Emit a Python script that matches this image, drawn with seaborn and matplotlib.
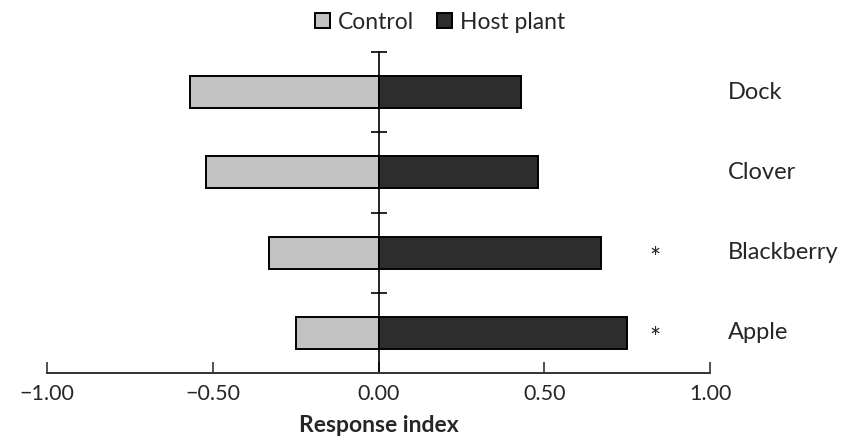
import pandas as pd
import numpy as np
import seaborn as sns
import matplotlib.pyplot as plt

# Dados
plantas = ['Dock', 'Clover', 'Blackberry', 'Apple']
controle = [-0.57, -0.52, -0.33, -0.25]
hospedeira = [0.43, 0.48, 0.67, 0.75]
significativo = ['', '', '*', '*']
grupos = ['Control', 'Host plant']
cores = ['#c2c2c2', '#2d2d2d']

df = pd.DataFrame({
    'planta': plantas * 2,
    'grupo': [grupos[0]] * len(plantas) + [grupos[1]] * len(plantas),
    'valor': controle + hospedeira,
})

sns.set_style('white')
plt.rcParams['font.family'] = ['Lato', 'DejaVu Sans']

fig = plt.figure(figsize=(8.48, 4.41), dpi=100)
ax = fig.add_axes([47 / 848, 68 / 441, 663 / 848, 321 / 441])

sns.barplot(data=df, y='planta', x='valor', hue='grupo', order=plantas,
            hue_order=grupos, palette=cores, dodge=False, width=0.4,
            edgecolor='black', linewidth=1.4, ax=ax)

ax.set_xlim(-1, 1)
ax.set_ylim(len(plantas) - 0.5, -0.5)

# eixo vertical no zero
for s in ['top', 'right']:
    ax.spines[s].set_visible(False)
ax.spines['left'].set_position(('data', 0))
ax.spines['left'].set_color('black')
ax.spines['left'].set_linewidth(1.2)
ax.spines['bottom'].set_color('#333333')
ax.spines['bottom'].set_linewidth(1.4)

ax.set_yticks(np.arange(-0.5, len(plantas) - 0.5, 1))
ax.set_yticklabels([])
ax.tick_params(axis='y', direction='inout', length=12, width=1.2, color='black', left=True)

ax.set_xticks([-1, -0.5, 0, 0.5, 1])
ax.set_xticklabels([f'{v:.2f}'.replace('-', '\u2212') for v in [-1, -0.5, 0, 0.5, 1]])
ax.tick_params(axis='x', direction='in', length=8, width=1.2, color='#333333',
               labelsize=15.5, pad=8, bottom=True)

ax.set_xlabel('Response index', fontsize=16.5, fontweight='bold', labelpad=8)
ax.set_ylabel('')

# nomes das plantas e asteriscos
for i, (p, s) in enumerate(zip(plantas, significativo)):
    ax.text(1.053, i, p, fontsize=17, ha='left', va='center')
    if s:
        ax.text(0.835, i + 0.08, s, fontsize=19, ha='center', va='center')

ax.legend(loc='lower center', bbox_to_anchor=(0.593, 1.0), ncol=2, frameon=False,
          fontsize=16.5, handlelength=0.65, handleheight=0.65, handletextpad=0.35,
          columnspacing=1.0, borderaxespad=0.45)

fig.savefig('out.png', dpi=100)
